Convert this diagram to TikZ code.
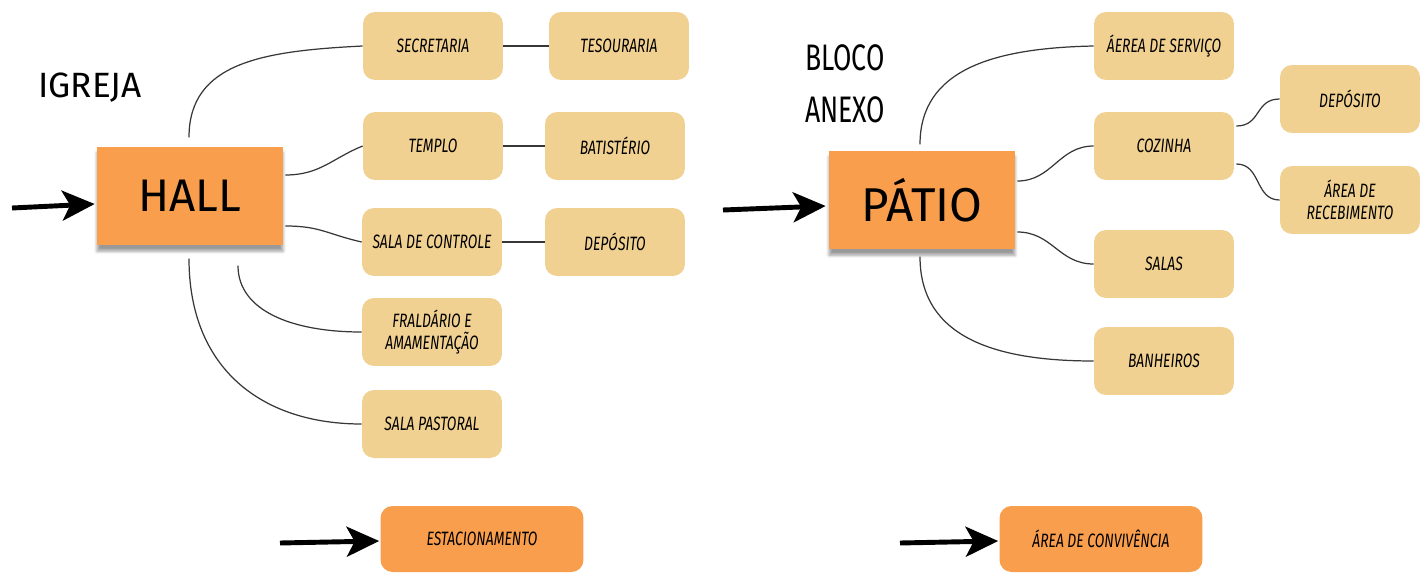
\documentclass[tikz,border=0pt]{standalone}
\usepackage{fontspec}
\usetikzlibrary{arrows.meta,shadows.blur}
\newfontfamily\handfont[FakeStretch=0.72]{Fira Sans}
\newfontfamily\titlefont{Fira Sans}
\definecolor{notebg}{RGB}{241,209,145}
\definecolor{stickyor}{RGB}{249,158,76}
\definecolor{wire}{RGB}{55,55,55}
\begin{document}
\begin{tikzpicture}[x=0.02cm,y=-0.02cm,
	room/.style={fill=notebg,rounded corners=0.24cm,minimum width=2.8cm,minimum height=1.36cm,inner sep=2pt,align=center,font=\handfont\itshape\fontsize{11}{12.5}\selectfont},
	sticky/.style={fill=stickyor,minimum width=3.72cm,minimum height=1.97cm,font=\titlefont\fontsize{26}{30}\selectfont,blur shadow={shadow xshift=0pt,shadow yshift=-0.12cm,shadow blur steps=6,shadow opacity=40}},
	wide/.style={room,fill=stickyor,minimum width=4.06cm,minimum height=1.32cm},
	link/.style={draw=wire,line width=0.7pt},
	entry/.style={line width=2.8pt,-{Stealth[length=6.5mm,width=6mm,inset=1.6mm]}}]
			\useasboundingbox (0,0) rectangle (1428,572);
			
			\node at (90,88) [font=\titlefont\fontsize{20}{22}\selectfont] (igreja) {IGREJA};
			\node at (190,196) [sticky] (Hall) {HALL};
			\coordinate (inH) at (12,208);
			\node at (433,46) [room] (Sec) {SECRETARIA};
			\node at (619,46) [room] (Tes) {TESOURARIA};
			\node at (433,146) [room] (Tem) {TEMPLO};
			\node at (615,146) [room] (Bat) {BATISTÉRIO};
			\node at (432,242) [room] (Ctl) {SALA DE CONTROLE};
			\node at (615,242) [room] (DepA) {DEPÓSITO};
			\node at (432,332) [room] (Fra) {FRALDÁRIO E\\AMAMENTAÇÃO};
			\node at (432,424) [room] (Pas) {SALA PASTORAL};
			\node at (482,539) [wide] (Est) {ESTACIONAMENTO};
			\coordinate (inE) at (280,543);
			
			\node at (845,58) [font=\handfont\fontsize{21}{23}\selectfont] (bloco) {BLOCO};
			\node at (845,110) [font=\handfont\fontsize{21}{23}\selectfont] (anexo) {ANEXO};
			\node at (922,200) [sticky,font=\titlefont\fontsize{27}{30}\selectfont] (Pat) {PÁTIO};
			\coordinate (inP) at (723,210);
			\node at (1164,46) [room] (Ser) {ÁEREA DE SERVIÇO};
			\node at (1164,146) [room] (Coz) {COZINHA};
			\node at (1350,99) [room] (DepB) {DEPÓSITO};
			\node at (1350,200) [room] (Rec) {ÁREA DE\\RECEBIMENTO};
			\node at (1164,264) [room] (Sal) {SALAS};
			\node at (1164,361) [room] (Ban) {BANHEIROS};
			\node at (1101,539) [wide] (Con) {ÁREA DE CONVIVÊNCIA};
			\coordinate (inC) at (900,543);
			
			\draw [entry] (inH) -- ([shift={(-2,8)}]Hall.west);
			\draw [entry] (inE) -- ([shift={(-1,2)}]Est.west);
			\draw [entry] (inP) -- ([shift={(-3,6)}]Pat.west);
			\draw [entry] (inC) -- ([shift={(-1,2)}]Con.west);
			
			\draw [link] ([shift={(-1,-9)}]Hall.north) .. controls +(0,-75) and +(-100,5) .. (Sec.west);
			\draw [link] ([shift={(2,-21)}]Hall.east) .. controls +(35,0) and +(-30,12) .. (Tem.west);
			\draw [link] ([shift={(2,30)}]Hall.east) .. controls +(35,0) and +(-35,-8) .. (Ctl.west);
			\draw [link] ([shift={(48,20)}]Hall.south) .. controls +(0,45) and +(-70,0) .. (Fra.west);
			\draw [link] ([shift={(-1,13)}]Hall.south) .. controls +(0,110) and +(-100,0) .. (Pas.west);
			\draw [link] (Sec) -- (Tes);
			\draw [link] (Tem) -- (Bat);
			\draw [link] (Ctl) -- (DepA);
			
			\draw [link] ([shift={(-2,-6)}]Pat.north) .. controls +(0,-75) and +(-100,2) .. (Ser.west);
			\draw [link] ([shift={(2,-19)}]Pat.east) .. controls +(35,0) and +(-35,0) .. (Coz.west);
			\draw [link] ([shift={(2,32)}]Pat.east) .. controls +(35,0) and +(-35,0) .. (Sal.west);
			\draw [link] ([shift={(-2,7)}]Pat.south) .. controls +(0,80) and +(-100,0) .. (Ban.west);
			\draw [link] ([shift={(2,-20)}]Coz.east) .. controls +(25,0) and +(-25,0) .. (DepB.west);
			\draw [link] ([shift={(2,18)}]Coz.east) .. controls +(25,0) and +(-25,0) .. (Rec.west);
\end{tikzpicture}
\end{document}
